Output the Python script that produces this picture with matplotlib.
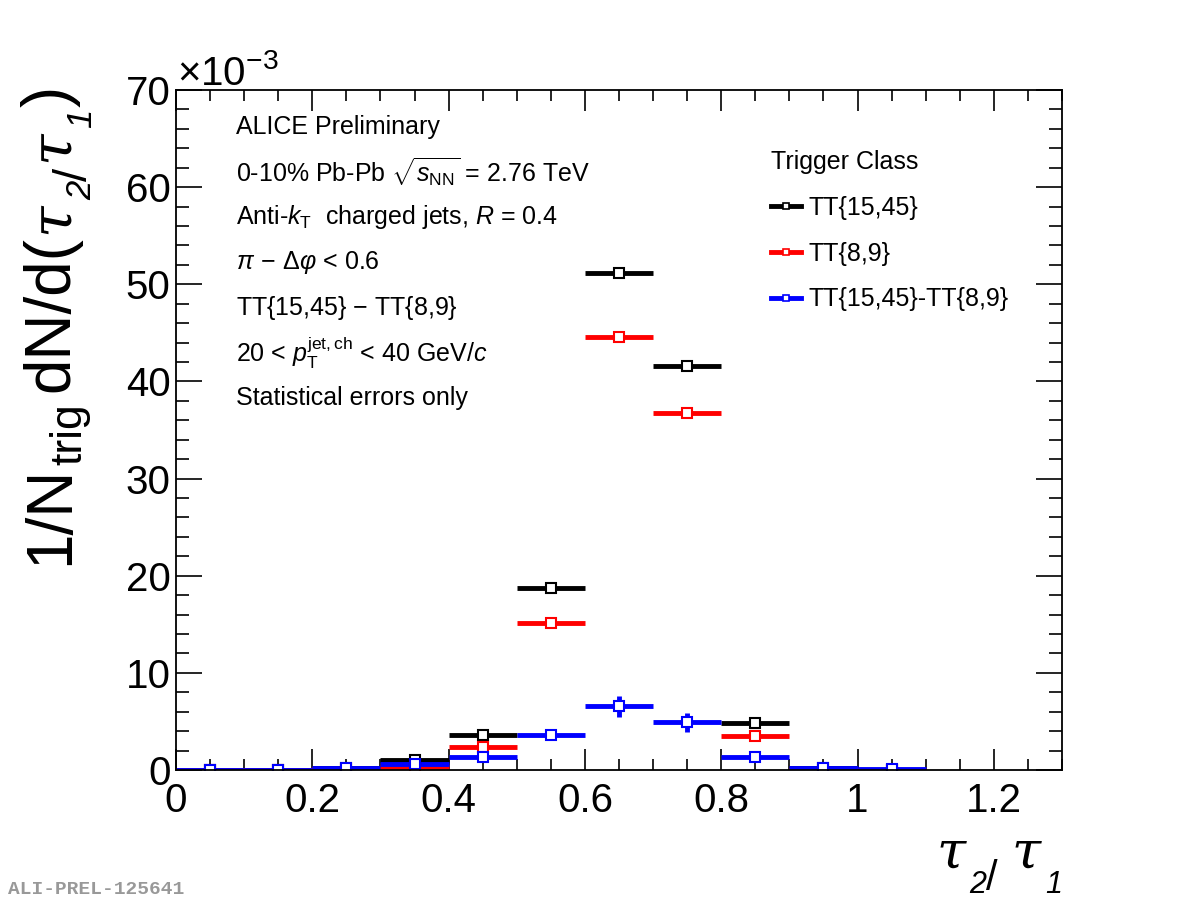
import numpy as np
import matplotlib.pyplot as plt
from matplotlib.ticker import MultipleLocator
from matplotlib.lines import Line2D

plt.rcParams['font.family'] = ['Liberation Sans', 'DejaVu Sans']
plt.rcParams['mathtext.fontset'] = 'custom'
plt.rcParams['mathtext.rm'] = 'Liberation Sans'
plt.rcParams['mathtext.it'] = 'Liberation Sans:italic'
plt.rcParams['mathtext.bf'] = 'Liberation Sans:bold'

W, H = 1182, 907

# tau2/tau1 bins (centres, half width 0.05)
bin_centers = [0.05, 0.15, 0.25, 0.35, 0.45, 0.55, 0.65, 0.75, 0.85, 0.95, 1.05]
bin_half = 0.05

# 1/N_trig dN/d(tau2/tau1), in units of 1e-3
tt_high = [0.05, 0.05, 0.2, 1.0, 3.6, 18.7, 51.2, 41.6, 4.8, 0.2, 0.05]
tt_high_err = [0.02, 0.02, 0.1, 0.2, 0.3, 0.4, 0.6, 0.5, 0.3, 0.1, 0.02]
tt_low = [0.03, 0.03, 0.15, 0.35, 2.35, 15.1, 44.6, 36.8, 3.5, 0.05, 0.02]
tt_low_err = [0.02, 0.02, 0.05, 0.1, 0.15, 0.25, 0.45, 0.4, 0.2, 0.05, 0.02]
tt_diff = [0.05, 0.05, 0.2, 0.6, 1.3, 3.6, 6.55, 4.9, 1.35, 0.25, 0.07]
tt_diff_err = [0.03, 0.03, 0.15, 0.3, 0.35, 0.5, 1.1, 1.0, 0.35, 0.15, 0.05]

series = [
    ("TT{15,45}", tt_high, tt_high_err, "black"),
    ("TT{8,9}", tt_low, tt_low_err, "#ff0000"),
    ("TT{15,45}-TT{8,9}", tt_diff, tt_diff_err, "#0000ff"),
]

info_lines = [
    "ALICE Preliminary",
    r"0-10% Pb-Pb $\sqrt{s_{\mathrm{NN}}}$ = 2.76 TeV",
    r"Anti-$k_{\mathrm{T}}$  charged jets, $R$ = 0.4",
    r"$\pi\,-\,\Delta\varphi$ < 0.6",
    "TT{15,45} $-$ TT{8,9}",
    r"20 < $p_{\mathrm{T}}^{\mathrm{jet,ch}}$ < 40 GeV/$c$",
    "Statistical errors only",
]

SANS = 'Liberation Sans'
GREEK = 'DejaVu Serif'


def draw_pieces(fig, start, base, pieces, vertical=False, end=None):
    """Chain text pieces (text, size, family, style, drop_px, gap_px) along a baseline."""
    renderer = fig.canvas.get_renderer()
    pos = start
    texts = []
    for text, size, family, style, drop, gap in pieces:
        pos += gap
        if vertical:
            t = fig.text((base + drop) / W, pos / H, text, fontsize=size, family=family,
                         style=style, rotation=90, rotation_mode='anchor',
                         ha='left', va='baseline')
            pos += t.get_window_extent(renderer).height
        else:
            t = fig.text(pos / W, (base - drop) / H, text, fontsize=size, family=family,
                         style=style, ha='left', va='baseline')
            pos += t.get_window_extent(renderer).width
        texts.append(t)
    if end is not None and not vertical:
        shift = (end - pos) / W
        for t in texts:
            t.set_x(t.get_position()[0] + shift)


fig = plt.figure(figsize=(W / 100, H / 100), dpi=100)
ax = fig.add_axes([176 / W, 137 / H, 886 / W, 680 / H])

handles = []
for label, vals, errs, col in series:
    ax.errorbar(bin_centers, vals, xerr=bin_half, yerr=errs, fmt='s', color=col,
                ecolor=col, elinewidth=3.5, capsize=0, markersize=6.5,
                markerfacecolor='white', markeredgecolor=col, markeredgewidth=1.5)
    handles.append(Line2D([], [], color=col, lw=3.5, marker='s', markersize=5,
                          markerfacecolor='white', markeredgecolor=col,
                          markeredgewidth=1.2, label=label))

ax.set_xlim(0, 1.3)
ax.set_ylim(0, 70)
ax.xaxis.set_major_locator(MultipleLocator(0.2))
ax.xaxis.set_minor_locator(MultipleLocator(0.05))
ax.yaxis.set_major_locator(MultipleLocator(10))
ax.yaxis.set_minor_locator(MultipleLocator(2))
ax.tick_params(which='both', direction='in', top=True, right=True, width=1.2)
ax.tick_params(axis='x', which='major', length=15)
ax.tick_params(axis='x', which='minor', length=8)
ax.tick_params(axis='y', which='major', length=19)
ax.tick_params(axis='y', which='minor', length=9.5)
ax.tick_params(which='major', labelsize=29)
ax.tick_params(axis='x', pad=9)
ax.tick_params(axis='y', pad=4)
ax.set_xticks(np.arange(0, 1.3, 0.2))
ax.set_xticklabels(["0", "0.2", "0.4", "0.6", "0.8", "1", "1.2"])
for s in ax.spines.values():
    s.set_linewidth(1.3)

fig.text(177 / W, 822 / H, r"$\times$10$^{-3}$", fontsize=29, ha='left', va='baseline')

# y title: 1/N_trig dN/d(tau_2/tau_1), drawn bottom-up
ytitle = [
    ("1/N", 46, SANS, 'normal', 0, 0),
    ("trig", 32, SANS, 'normal', 13, 1),
    ("dN/d(", 46, SANS, 'normal', 0, 11),
    ("τ", 41, GREEK, 'italic', 0, 2),
    ("2", 25, SANS, 'italic', 23, 2),
    ("/", 34, SANS, 'normal', 19, 0),
    ("τ", 41, GREEK, 'italic', 0, 6),
    ("1", 25, SANS, 'italic', 23, 2),
    (")", 46, SANS, 'normal', 0, 2),
]
draw_pieces(fig, H - 565, 68, ytitle, vertical=True)

# x title: tau_2/tau_1, right aligned with the axis end
xtitle = [
    ("τ", 38, GREEK, 'italic', 0, 0),
    ("2", 22, SANS, 'italic', 26, 4),
    ("/", 30, SANS, 'normal', 23, 0),
    ("τ", 38, GREEK, 'italic', 0, 14),
    ("1", 22, SANS, 'italic', 26, 4),
]
draw_pieces(fig, 934, H - 867, xtitle, end=1062)

for i, line in enumerate(info_lines):
    ax.text(236 / W, (H - 127 - 45.2 * i) / H, line, transform=fig.transFigure,
            fontsize=18, ha='left', va='center')

leg = ax.legend(handles=handles, loc='upper left',
                bbox_to_anchor=(771 / W, (H - 150) / H),
                bbox_transform=fig.transFigure, frameon=False, fontsize=18,
                title="Trigger Class", title_fontsize=18, handlelength=1.2,
                handletextpad=0.3, labelspacing=0.87, alignment='left',
                borderaxespad=0, borderpad=0)

fig.text(8 / W, 17 / H, "ALI-PREL-125641", fontsize=14, family='Liberation Mono',
         weight='bold', color='#999999', ha='left', va='center')

fig.savefig("out.png", dpi=100)
